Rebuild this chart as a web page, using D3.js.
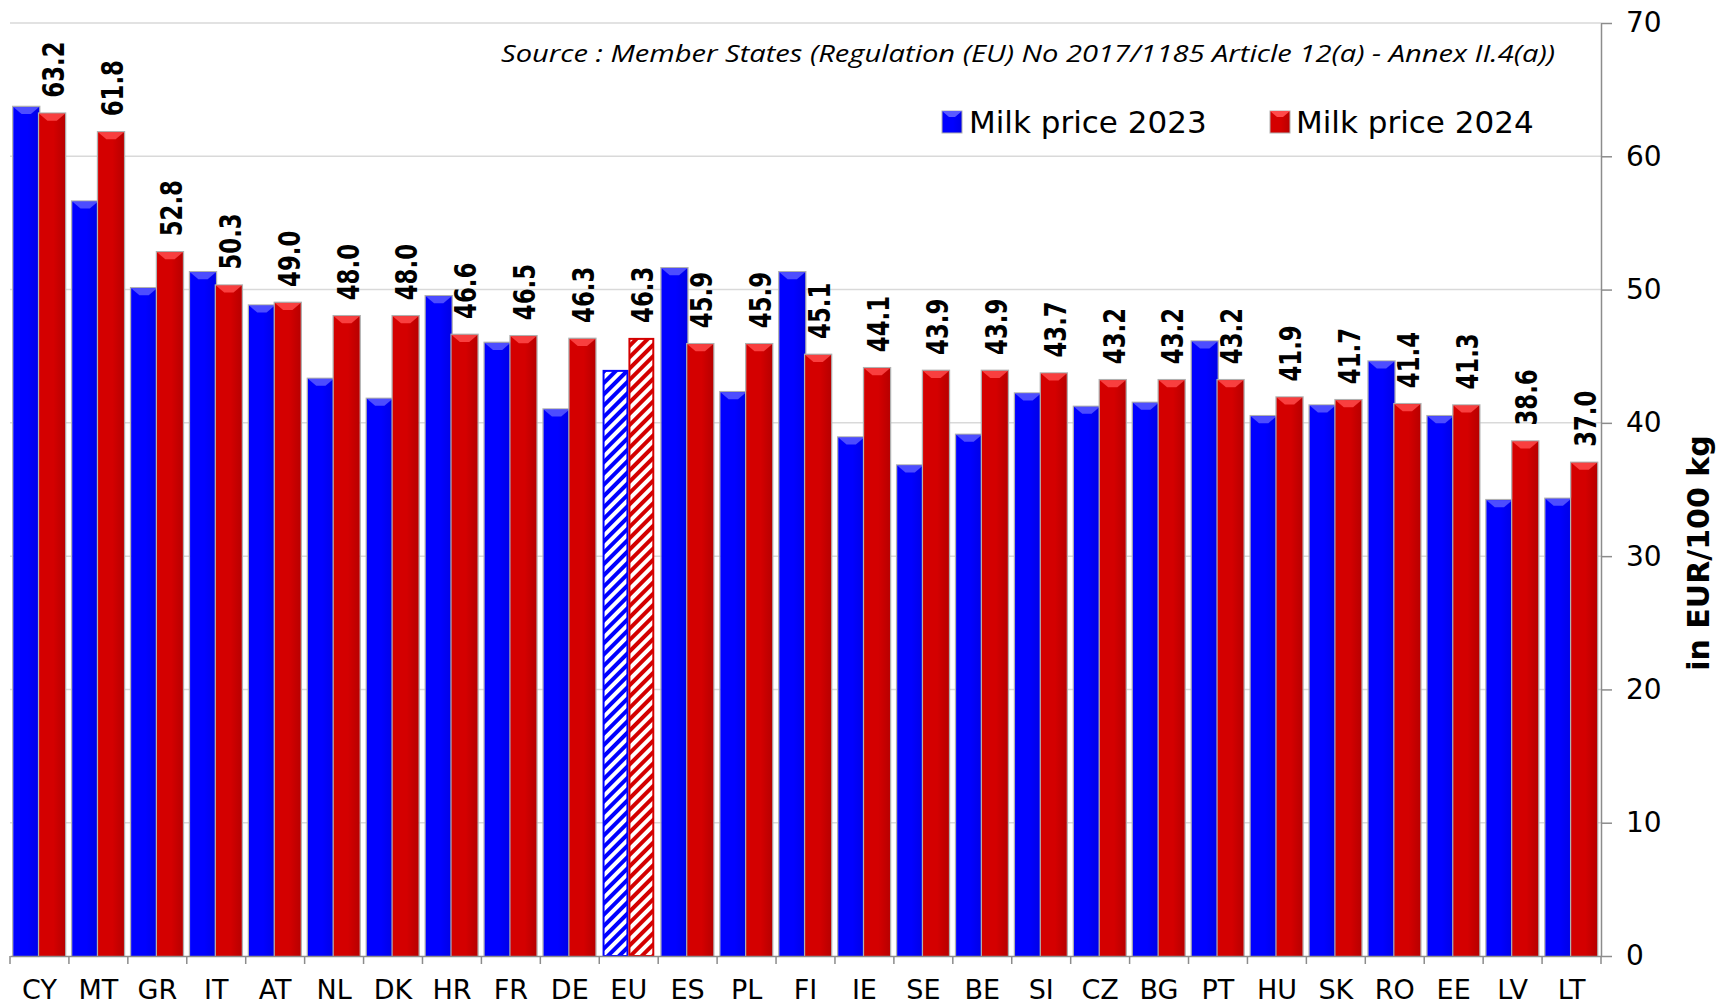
<!DOCTYPE html>
<html>
<head>
<meta charset="utf-8">
<script src="https://cdn.jsdelivr.net/npm/d3@7"></script>
<style>
  html, body { margin: 0; padding: 0; background: #fff; }
  svg { display: block; }
</style>
</head>
<body>
<script>
const categories = ["CY","MT","GR","IT","AT","NL","DK","HR","FR","DE","EU","ES","PL","FI","IE","SE","BE","SI","CZ","BG","PT","HU","SK","RO","EE","LV","LT"];
const price2023 = [63.7,56.6,50.1,51.3,48.8,43.3,41.8,49.5,46.0,41.0,43.9,51.6,42.3,51.3,38.9,36.8,39.1,42.2,41.2,41.5,46.1,40.5,41.3,44.6,40.5,34.2,34.3];
const price2024 = [63.2,61.8,52.8,50.3,49.0,48.0,48.0,46.6,46.5,46.3,46.3,45.9,45.9,45.1,44.1,43.9,43.9,43.7,43.2,43.2,43.2,41.9,41.7,41.4,41.3,38.6,37.0];
const seriesNames = ["Milk price 2023", "Milk price 2024"];
const yTicks = [0,10,20,30,40,50,60,70];
const hatchedCategory = "EU";
const sourceText = "Source : Member States (Regulation (EU) No 2017/1185 Article 12(a) - Annex II.4(a))";
const yTitle = "in EUR/100 kg";

(function() {
const W = 1727, H = 1008;
const pLeft = 10, pRight = 1601, pTop = 23, pBottom = 956;

const svg = d3.select("body").append("svg").attr("width", W).attr("height", H);
const defs = svg.append("defs");

const colors = {
  "Milk price 2023": {base: "#0000ff", dark: "#0000e6", light: "#5a5aff"},
  "Milk price 2024": {base: "#d40000", dark: "#b80000", light: "#ff4a4a"}
};

seriesNames.forEach((s, i) => {
  const c = colors[s];
  const g = defs.append("linearGradient").attr("id", "grad" + i).attr("x1", 0).attr("x2", 1).attr("y1", 0).attr("y2", 0);
  g.append("stop").attr("offset", "0%").attr("stop-color", c.base);
  g.append("stop").attr("offset", "55%").attr("stop-color", c.base);
  g.append("stop").attr("offset", "100%").attr("stop-color", c.dark);
  const p = defs.append("pattern").attr("id", "hatch" + i).attr("patternUnits", "userSpaceOnUse")
    .attr("width", 8).attr("height", 8).attr("patternTransform", "rotate(45)");
  p.append("rect").attr("width", 8).attr("height", 8).attr("fill", "#fff");
  p.append("rect").attr("x", 0).attr("width", 4).attr("height", 8).attr("fill", c.base);
});

const x = d3.scaleBand().domain(categories).range([pLeft, pRight]).padding(0);
const step = x.bandwidth();
const x1 = d3.scaleBand().domain(seriesNames).range([3.3, step - 3.9]).padding(0);
const y = d3.scaleLinear().domain([0, 70]).range([pBottom, pTop]);

// gridlines
svg.append("g").selectAll("line").data(yTicks.filter(t => t > 0)).join("line")
  .attr("x1", pLeft).attr("x2", pRight)
  .attr("y1", d => y(d)).attr("y2", d => y(d))
  .attr("stroke", "#d9d9d9").attr("stroke-width", 1.5);

// bars
const rows = categories.map((c, i) => ({cat: c, vals: [price2023[i], price2024[i]]}));
const groups = svg.append("g").selectAll("g").data(rows).join("g")
  .attr("transform", d => `translate(${x(d.cat)},0)`);

groups.each(function(d) {
  const g = d3.select(this);
  seriesNames.forEach((s, i) => {
    const v = d.vals[i];
    const bx = x1(s), bw = x1.bandwidth();
    const by = y(v), bh = y(0) - y(v);
    const c = colors[s];
    if (d.cat === hatchedCategory) {
      g.append("rect").attr("x", bx + 1).attr("y", by).attr("width", bw - 2).attr("height", bh)
        .attr("fill", `url(#hatch${i})`).attr("stroke", c.base).attr("stroke-width", 2);
    } else {
      g.append("rect").attr("x", bx - 0.5).attr("y", by - 0.5).attr("width", bw + 1).attr("height", bh + 0.5)
        .attr("fill", "none").attr("stroke", "#b0b0b0").attr("stroke-width", 1.5);
      g.append("rect").attr("x", bx).attr("y", by).attr("width", bw).attr("height", bh)
        .attr("fill", `url(#grad${i})`);
      g.append("path")
        .attr("d", `M${bx},${by} L${bx + bw},${by} L${bx + bw * 0.68},${by + 7} L${bx + bw * 0.32},${by + 7} Z`)
        .attr("fill", c.light).attr("opacity", 0.85);
    }
  });
  const v2 = d.vals[1];
  const lx = x1(seriesNames[1]) + x1.bandwidth() / 2 + 1;
  const ly = y(v2) - 16;
  g.append("text")
    .attr("transform", `translate(${lx},${ly}) rotate(-90) scale(0.76,1)`)
    .attr("dy", "0.36em")
    .attr("font-family", "DejaVu Sans")
    .attr("font-weight", "bold")
    .attr("font-size", 30)
    .attr("fill", "#000")
    .text(v2.toFixed(1));
});

// x axis
const xAxis = svg.append("g").attr("transform", `translate(0,${pBottom})`)
  .call(d3.axisBottom(x).tickSize(0).tickPadding(24));
xAxis.select(".domain").attr("stroke", "#8c8c8c").attr("stroke-width", 1.5);
xAxis.selectAll(".tick text").attr("font-family", "DejaVu Sans").attr("font-size", 27).attr("fill", "#000");
const boundaries = categories.map(c => x(c)).concat([pRight]);
xAxis.selectAll("line.bound").data(boundaries).join("line").attr("class", "bound")
  .attr("x1", d => d).attr("x2", d => d).attr("y1", 0).attr("y2", 8)
  .attr("stroke", "#8c8c8c").attr("stroke-width", 1.5);

// y axis
const yAxis = svg.append("g").attr("transform", `translate(${pRight},0)`)
  .call(d3.axisRight(y).tickValues(yTicks).tickSize(11).tickPadding(14).tickSizeOuter(0));
yAxis.select(".domain").attr("stroke", "#8c8c8c").attr("stroke-width", 1.5);
yAxis.selectAll(".tick line").attr("stroke", "#8c8c8c").attr("stroke-width", 1.5);
yAxis.selectAll(".tick text").attr("font-family", "DejaVu Sans").attr("font-size", 28).attr("fill", "#000");

// y title
svg.append("text")
  .attr("transform", `translate(1698,553) rotate(-90)`)
  .attr("text-anchor", "middle").attr("dy", "0.35em")
  .attr("font-family", "DejaVu Sans").attr("font-weight", "bold").attr("font-size", 30)
  .text(yTitle);

// source
svg.append("text")
  .attr("x", 501).attr("y", 62)
  .attr("font-family", "Open Sans").attr("font-style", "italic").attr("font-size", 24)
  .attr("textLength", 1054).attr("lengthAdjust", "spacingAndGlyphs")
  .attr("fill", "#000")
  .text(sourceText);

// legend
const legendPos = [{sx: 942, tx: 969}, {sx: 1270, tx: 1296}];
const legend = svg.append("g");
seriesNames.forEach((s, i) => {
  const c = colors[s];
  const lg = legend.append("g");
  lg.append("rect").attr("x", legendPos[i].sx).attr("y", 111).attr("width", 20).attr("height", 22)
    .attr("fill", `url(#grad${i})`).attr("stroke", "#b0b0b0").attr("stroke-width", 1);
  lg.append("path")
    .attr("d", `M${legendPos[i].sx},111 L${legendPos[i].sx + 20},111 L${legendPos[i].sx + 13},117 L${legendPos[i].sx + 7},117 Z`)
    .attr("fill", c.light);
  lg.append("text").attr("x", legendPos[i].tx).attr("y", 133)
    .attr("font-family", "DejaVu Sans").attr("font-size", 31).attr("fill", "#000")
    .text(s);
});
})();
</script>
</body>
</html>
